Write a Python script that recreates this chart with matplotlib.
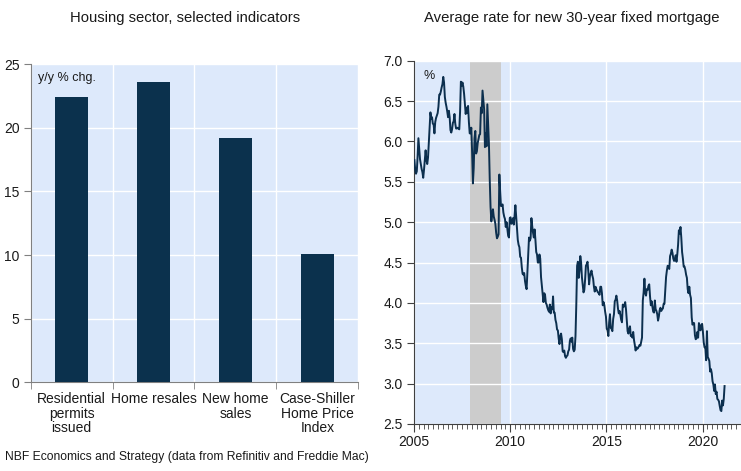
import numpy as np
import matplotlib
matplotlib.use("Agg")
import matplotlib.pyplot as plt
from matplotlib.ticker import MultipleLocator, FixedLocator

plt.rcParams['font.family'] = ['Liberation Sans', 'DejaVu Sans']

# ---- Bar chart data: housing indicators, y/y % change ----
categories = ["Residential\npermits\nissued", "Home resales", "New home\nsales",
              "Case-Shiller\nHome Price\nIndex"]
yoy_change = [22.4, 23.6, 19.2, 10.1]

# ---- 30-year fixed mortgage rate, two readings per month, Jan 2005 - Feb 2021 ----
rate_start_year = 2005
mortgage_rate = [
    # 2005
    5.77, 5.65, 5.60, 5.63, 5.81, 6.04, 5.91, 5.78, 5.72, 5.66, 5.62, 5.55,
    5.65, 5.77, 5.89, 5.77, 5.72, 5.80, 5.98, 6.15, 6.36, 6.28, 6.30, 6.22,
    # 2006
    6.21, 6.10, 6.24, 6.29, 6.32, 6.35, 6.43, 6.58, 6.58, 6.62, 6.67, 6.71,
    6.80, 6.73, 6.55, 6.48, 6.43, 6.37, 6.30, 6.38, 6.30, 6.14, 6.11, 6.15,
    # 2007
    6.23, 6.25, 6.34, 6.22, 6.16, 6.16, 6.17, 6.16, 6.15, 6.37, 6.74, 6.69,
    6.73, 6.68, 6.59, 6.46, 6.34, 6.42, 6.35, 6.44, 6.24, 6.10, 6.10, 6.17,
    # 2008
    5.87, 5.48, 5.67, 6.04, 6.13, 5.85, 5.88, 5.98, 6.03, 6.08, 6.09, 6.42,
    6.35, 6.63, 6.52, 6.40, 5.93, 6.10, 5.94, 6.46, 6.20, 5.97, 5.53, 5.19,
    # 2009
    5.01, 5.10, 5.16, 5.07, 5.03, 4.98, 4.87, 4.80, 4.82, 4.85, 5.59, 5.38,
    5.20, 5.20, 5.22, 5.12, 5.07, 5.04, 4.94, 5.00, 4.91, 4.83, 4.81, 5.05,
    # 2010
    5.06, 4.98, 5.00, 5.05, 4.97, 5.08, 5.21, 5.06, 4.93, 4.78, 4.72, 4.69,
    4.57, 4.56, 4.44, 4.36, 4.35, 4.37, 4.27, 4.21, 4.17, 4.39, 4.61, 4.81,
    # 2011
    4.77, 4.80, 5.05, 4.95, 4.87, 4.81, 4.91, 4.78, 4.63, 4.60, 4.50, 4.50,
    4.60, 4.55, 4.32, 4.22, 4.12, 4.01, 4.12, 4.10, 4.00, 3.98, 3.94, 3.91,
    # 2012
    3.89, 3.98, 3.87, 3.95, 3.92, 4.08, 3.88, 3.88, 3.79, 3.75, 3.67, 3.66,
    3.56, 3.49, 3.59, 3.62, 3.55, 3.40, 3.39, 3.41, 3.34, 3.32, 3.34, 3.35,
    # 2013
    3.40, 3.42, 3.53, 3.56, 3.52, 3.57, 3.43, 3.40, 3.42, 3.59, 3.98, 4.46,
    4.51, 4.31, 4.40, 4.58, 4.50, 4.32, 4.23, 4.13, 4.16, 4.29, 4.46, 4.48,
    # 2014
    4.51, 4.39, 4.23, 4.33, 4.37, 4.40, 4.34, 4.30, 4.20, 4.14, 4.20, 4.17,
    4.15, 4.13, 4.12, 4.10, 4.20, 4.20, 4.12, 3.97, 4.01, 3.97, 3.89, 3.83,
    # 2015
    3.68, 3.66, 3.59, 3.76, 3.86, 3.69, 3.68, 3.65, 3.80, 3.86, 4.02, 4.04,
    4.09, 4.03, 3.93, 3.87, 3.90, 3.85, 3.79, 3.76, 3.98, 3.95, 3.97, 4.01,
    # 2016
    3.92, 3.79, 3.65, 3.62, 3.68, 3.71, 3.59, 3.60, 3.57, 3.64, 3.54, 3.48,
    3.41, 3.45, 3.43, 3.44, 3.46, 3.48, 3.47, 3.52, 3.57, 4.03, 4.13, 4.30,
    # 2017
    4.12, 4.09, 4.17, 4.16, 4.21, 4.23, 4.08, 3.97, 4.02, 3.95, 3.89, 3.88,
    4.03, 3.92, 3.90, 3.86, 3.78, 3.83, 3.91, 3.94, 3.90, 3.92, 3.93, 3.99,
    # 2018
    3.99, 4.15, 4.32, 4.40, 4.46, 4.45, 4.42, 4.58, 4.61, 4.66, 4.62, 4.55,
    4.52, 4.54, 4.59, 4.51, 4.60, 4.72, 4.90, 4.86, 4.94, 4.81, 4.63, 4.55,
    # 2019
    4.45, 4.45, 4.41, 4.35, 4.31, 4.17, 4.12, 4.20, 4.10, 4.06, 3.82, 3.73,
    3.75, 3.75, 3.60, 3.55, 3.56, 3.64, 3.57, 3.75, 3.69, 3.66, 3.73, 3.74,
    # 2020
    3.64, 3.51, 3.45, 3.45, 3.29, 3.65, 3.33, 3.31, 3.28, 3.15, 3.18, 3.13,
    3.03, 2.99, 2.91, 2.99, 2.87, 2.90, 2.81, 2.80, 2.78, 2.72, 2.67, 2.66,
    # 2021
    2.79, 2.73, 2.81, 2.97,
]

# recession (NBER: Dec 2007 - Jun 2009)
recession_start, recession_end = 2007.92, 2009.5

bg = "#dde9fb"
bar_color = "#0b314d"
line_color = "#0c2f4e"
text_color = "#1a1a1a"

fig = plt.figure(figsize=(7.41, 4.71), dpi=100)

# ---------------- left: bar chart ----------------
ax1 = fig.add_axes([0.0414, 0.1883, 0.4421, 0.6752])
ax1.set_facecolor(bg)
x = np.arange(len(categories))
ax1.bar(x, yoy_change, width=0.41, color=bar_color, zorder=3)
ax1.set_xlim(-0.5, len(categories) - 0.5)
ax1.set_ylim(0, 25)
ax1.yaxis.set_major_locator(MultipleLocator(5))
ax1.set_xticks(x)
ax1.set_xticklabels(categories, fontsize=10, color=text_color, linespacing=1.05)
ax1.xaxis.set_minor_locator(FixedLocator(np.arange(-0.5, len(categories), 1.0)))
ax1.tick_params(axis='x', which='major', length=0, pad=7)
ax1.tick_params(axis='x', which='minor', length=5, color="#808080", direction='out')
ax1.tick_params(axis='y', length=5, color="#808080", labelsize=10, labelcolor=text_color, pad=3)
ax1.grid(True, axis='y', color='white', linewidth=1.0, zorder=1)
ax1.grid(True, axis='x', which='minor', color='white', linewidth=1.0, zorder=1)
for side in ("top", "right"):
    ax1.spines[side].set_visible(False)
ax1.spines["left"].set_color("#808080")
ax1.spines["bottom"].set_color("#808080")
ax1.text(0.022, 0.975, "y/y % chg.", transform=ax1.transAxes, fontsize=9,
         color=text_color, va='top', ha='left')
fig.text(0.25, 0.962, "Housing sector, selected indicators", ha='center', va='center',
         fontsize=10.7, color=text_color)

# ---------------- right: mortgage rate ----------------
ax2 = fig.add_axes([0.5587, 0.0998, 0.4413, 0.7713])
ax2.set_facecolor(bg)
t = rate_start_year + (np.arange(len(mortgage_rate)) + 0.5) / 24.0
ax2.axvspan(recession_start, recession_end, color="#cccccc", zorder=1, linewidth=0)
ax2.plot(t, mortgage_rate, color=line_color, linewidth=1.4, zorder=3)
ax2.set_xlim(2005, 2022)
ax2.set_ylim(2.5, 7.0)
ax2.yaxis.set_major_locator(MultipleLocator(0.5))
ax2.yaxis.set_major_formatter(matplotlib.ticker.FormatStrFormatter('%.1f'))
ax2.xaxis.set_major_locator(FixedLocator([2005, 2010, 2015, 2020]))
ax2.xaxis.set_major_formatter(matplotlib.ticker.FormatStrFormatter('%d'))
ax2.xaxis.set_minor_locator(MultipleLocator(0.25))
ax2.tick_params(axis='x', which='major', length=6, color="#404040", labelsize=10,
                labelcolor=text_color, pad=2)
ax2.tick_params(axis='x', which='minor', length=3.5, color="#404040")
ax2.tick_params(axis='y', length=5, color="#404040", labelsize=10, labelcolor=text_color, pad=3)
ax2.grid(True, which='major', color='white', linewidth=1.0, zorder=2)
for side in ("top", "right"):
    ax2.spines[side].set_visible(False)
ax2.spines["left"].set_color("#404040")
ax2.spines["bottom"].set_color("#404040")
ax2.text(0.03, 0.975, "%", transform=ax2.transAxes, fontsize=9,
         color=text_color, va='top', ha='left', zorder=4)
fig.text(0.772, 0.962, "Average rate for new 30-year fixed mortgage", ha='center',
         va='center', fontsize=10.7, color=text_color)

fig.text(0.007, 0.017, "NBF Economics and Strategy (data from Refinitiv and Freddie Mac)",
         ha='left', va='bottom', fontsize=8.7, color=text_color)

fig.savefig("out.png", dpi=100, facecolor='white')
